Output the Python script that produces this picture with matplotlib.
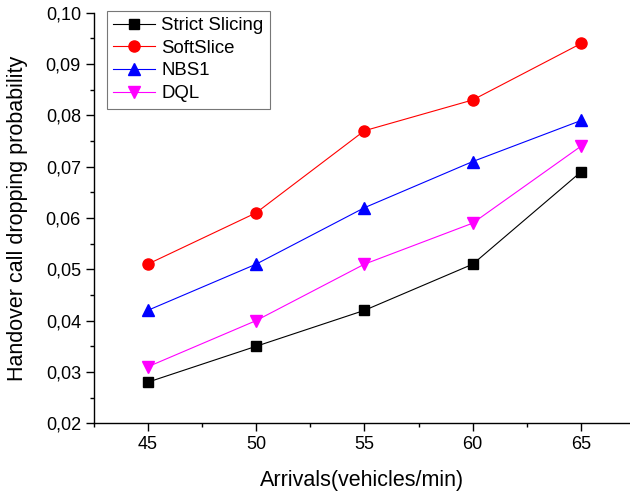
import matplotlib
matplotlib.use("Agg")
import matplotlib.pyplot as plt
from matplotlib.ticker import MultipleLocator, FuncFormatter

plt.rcParams['font.family'] = ['Liberation Sans', 'DejaVu Sans']

arrivals = [45, 50, 55, 60, 65]
strict = [0.028, 0.035, 0.042, 0.051, 0.069]
softslice = [0.051, 0.061, 0.077, 0.083, 0.094]
nbs1 = [0.042, 0.051, 0.062, 0.071, 0.079]
dql = [0.031, 0.040, 0.051, 0.059, 0.074]

fig = plt.figure(figsize=(6.3, 4.96), dpi=100)
ax = fig.add_axes([93.5 / 630, 1 - 423.3 / 496, (630 - 93.5) / 630, 410.6 / 496])

ax.plot(arrivals, strict, color='black', marker='s', markersize=7, lw=0.8, label='Strict Slicing')
ax.plot(arrivals, softslice, color='red', marker='o', markersize=8, lw=0.8, label='SoftSlice')
ax.plot(arrivals, nbs1, color='blue', marker='^', markersize=8.5, lw=0.8, label='NBS1')
ax.plot(arrivals, dql, color='magenta', marker='v', markersize=8.5, lw=0.8, label='DQL')

ax.set_xlim(42.5, 42.5 + (630 - 93.5) / 21.67)
ax.set_ylim(0.02, 0.10)
ax.xaxis.set_major_locator(MultipleLocator(5))
ax.xaxis.set_minor_locator(MultipleLocator(2.5))
ax.yaxis.set_major_locator(MultipleLocator(0.01))
ax.yaxis.set_minor_locator(MultipleLocator(0.005))
ax.yaxis.set_major_formatter(FuncFormatter(lambda v, p: f"{v:.2f}".replace('.', ',')))

for s in ['top', 'right']:
    ax.spines[s].set_visible(False)
for s in ['left', 'bottom']:
    ax.spines[s].set_linewidth(1.0)
ax.tick_params(which='major', direction='out', length=5.8, width=1, labelsize=13, pad=3.2)
ax.tick_params(which='minor', direction='out', length=3.2, width=1)

ax.set_xlabel('Arrivals(vehicles/min)', fontsize=15.5)
ax.set_ylabel('Handover call dropping probability', fontsize=15.5)
ax.xaxis.set_label_coords(0.5, -0.114)
ax.yaxis.set_label_coords(-0.122, 0.5)

leg = ax.legend(loc='upper left', bbox_to_anchor=(0.0246, 1.005), fontsize=13.4, frameon=True,
                fancybox=False, edgecolor='#555555', handlelength=2.25, borderpad=0.35,
                labelspacing=0.3, handletextpad=0.32, borderaxespad=0.0, markerscale=1.0)
leg.get_frame().set_linewidth(0.8)

fig.savefig('out.png', dpi=100)
